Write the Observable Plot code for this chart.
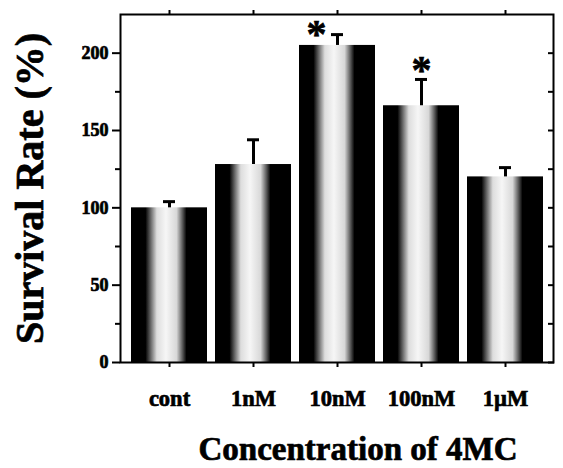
<!DOCTYPE html>
<html><head><meta charset="utf-8">
<script src="https://cdn.jsdelivr.net/npm/d3@7"></script>
<script src="https://cdn.jsdelivr.net/npm/@observablehq/plot@0.6"></script>
<style>
body{margin:0;background:#fff;}
#chart svg text{stroke:#000;stroke-width:0.7px;}
</style>
</head><body><div id="chart"></div>
<script>
const categories = ["cont", "1nM", "10nM", "100nM", "1\u00b5M"];
const means = [100, 128, 205, 166, 120];
const errors = [4, 16, 7, 17, 6];
const significant = [false, false, true, true, false];
const yMajorTicks = [0, 50, 100, 150, 200];
const yMinorTicks = [25, 75, 125, 175];
const yRightTicks = [0, 25, 50, 75, 100, 125, 150, 175, 200];
const yTitle = "Survival Rate (%)";
const xTitle = "Concentration of 4MC";

const data = categories.map((c, i) => ({cat: c, mean: means[i], top: means[i] + errors[i], sig: significant[i]}));

const defs = () => {
  const ns = "http://www.w3.org/2000/svg";
  const d = document.createElementNS(ns, "defs");
  d.innerHTML = `<linearGradient id="barGrad" x1="0" x2="1" y1="0" y2="0">
    <stop offset="0" stop-color="#000"/>
    <stop offset="0.19" stop-color="#000"/>
    <stop offset="0.27" stop-color="#777"/>
    <stop offset="0.34" stop-color="#ddd"/>
    <stop offset="0.46" stop-color="#f6f6f6"/>
    <stop offset="0.60" stop-color="#d8d8d8"/>
    <stop offset="0.67" stop-color="#666"/>
    <stop offset="0.73" stop-color="#000"/>
    <stop offset="1" stop-color="#000"/>
  </linearGradient>`;
  return d;
};

const font = "'Liberation Serif', 'Times New Roman', serif";

const chart = Plot.plot({
  width: 563, height: 468,
  marginLeft: 120, marginRight: 10, marginTop: 14, marginBottom: 106,
  style: {fontFamily: font, background: "#fff", color: "#000"},
  x: {domain: categories, padding: 0.1, label: null},
  y: {domain: [0, 225], label: null},
  marks: [
    defs,
    Plot.barY(data, {x: "cat", y: "mean", fill: "url(#barGrad)"}),
    Plot.ruleX(data, {x: "cat", y1: "mean", y2: "top", strokeWidth: 3}),
    Plot.tickY(data, {x: "cat", y: "top", insetLeft: 32, insetRight: 32, strokeWidth: 3}),
    Plot.text(data.filter(d => d.sig && d.cat === "10nM"), {x: "cat", y: "top", text: () => "*", dx: -21, dy: 0, fontSize: 40, fontWeight: "bold"}),
    Plot.text(data.filter(d => d.sig && d.cat !== "10nM"), {x: "cat", y: "top", text: () => "*", dy: -9, fontSize: 40, fontWeight: "bold"}),
    Plot.axisY({ticks: yMajorTicks, tickSize: 8, tickPadding: 4, fontSize: 18, fontWeight: "bold", label: null, strokeWidth: 2}),
    Plot.axisY({ticks: yMinorTicks, tickSize: 5, tickFormat: () => "", label: null, strokeWidth: 2}),
    Plot.axisY({anchor: "right", ticks: yRightTicks, tickSize: 6, insetRight: 6, tickFormat: () => "", label: null, strokeWidth: 2}),
    Plot.axisX({anchor: "bottom", tickSize: 5, tickPadding: 23, fontSize: 22.5, fontWeight: "bold", label: null, strokeWidth: 2}),
    Plot.axisX({anchor: "top", tickSize: 5, tickFormat: () => "", label: null, strokeWidth: 2}),
    Plot.frame({strokeWidth: 2}),
    Plot.text([yTitle], {frameAnchor: "left", textAnchor: "middle", lineAnchor: "middle", dx: -90, rotate: -90, fontSize: 40, fontWeight: "bold"}),
    Plot.text([xTitle], {frameAnchor: "bottom", textAnchor: "middle", lineAnchor: "middle", dx: 21, dy: 87, fontSize: 33, fontWeight: "bold"})
  ]
});
document.getElementById("chart").appendChild(chart);
</script>
</body></html>
